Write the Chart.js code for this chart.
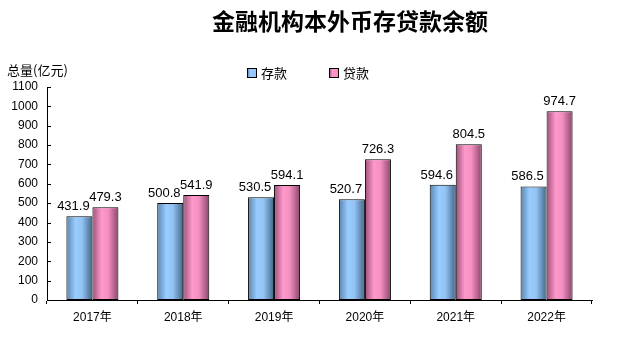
<!DOCTYPE html>
<html>
<head>
<meta charset="utf-8">
<script src="https://cdn.jsdelivr.net/npm/chart.js@4.4.0/dist/chart.umd.min.js"></script>
<style>
  html, body { margin: 0; padding: 0; background: #fff; }
  #wrap { width: 628px; height: 342px; }
</style>
</head>
<body>
<div id="wrap"><canvas id="loanChart"></canvas></div>
<script>
// 数据
const years = ["2017年", "2018年", "2019年", "2020年", "2021年", "2022年"];
const deposits = [431.9, 500.8, 530.5, 520.7, 594.6, 586.5];
const loans = [479.3, 541.9, 594.1, 726.3, 804.5, 974.7];
const seriesNames = ["存款", "贷款"];
const yTicks = [0, 100, 200, 300, 400, 500, 600, 700, 800, 900, 1000, 1100];

const CAT_PCT = 0.573;
const FONT = "'Liberation Sans', Arial, 'Noto Sans CJK SC', sans-serif";

const palettes = [
  ["#5a84ad", "#99ccff", "#92c3f3", "#42668a"],
  ["#9c5079", "#ff99cc", "#f48fc2", "#8a4669"]
];

function barGradient(ctx) {
  const chart = ctx.chart;
  const xs = chart.scales.x;
  if (!xs || !chart.chartArea || ctx.dataIndex === undefined) return palettes[ctx.datasetIndex][1];
  const center = xs.getPixelForValue(ctx.dataIndex);
  const catW = xs.width / years.length;
  const groupW = catW * CAT_PCT;
  const barW = groupW / 2;
  const left = center - groupW / 2 + ctx.datasetIndex * barW;
  const p = palettes[ctx.datasetIndex];
  const g = chart.ctx.createLinearGradient(left, 0, left + barW, 0);
  g.addColorStop(0, p[0]);
  g.addColorStop(0.35, p[1]);
  g.addColorStop(0.6, p[2]);
  g.addColorStop(1, p[3]);
  return g;
}

const extras = {
  id: "extras",
  afterDraw(chart) {
    const ctx = chart.ctx;
    const ys = chart.scales.y;
    const area = chart.chartArea;
    ctx.save();
    // 标题
    ctx.fillStyle = "#000";
    ctx.font = "bold 23px 'Noto Sans CJK SC', serif";
    ctx.textAlign = "center";
    ctx.textBaseline = "middle";
    ctx.fillText("金融机构本外币存贷款余额", 350, 21);
    // 单位
    ctx.font = "13px 'Noto Sans CJK SC', sans-serif";
    ctx.textAlign = "left";
    ctx.fillText("总量(亿元)", 7, 70);
    // 图例
    const legendX = [247, 329];
    seriesNames.forEach((name, i) => {
      const g = ctx.createLinearGradient(legendX[i], 0, legendX[i] + 9, 0);
      g.addColorStop(0, palettes[i][0]);
      g.addColorStop(0.4, palettes[i][1]);
      g.addColorStop(1, palettes[i][2]);
      ctx.fillStyle = g;
      ctx.fillRect(legendX[i], 68, 9, 9);
      ctx.strokeStyle = "#000";
      ctx.lineWidth = 1;
      ctx.strokeRect(legendX[i] + 0.5, 68.5, 9, 9);
      ctx.fillStyle = "#000";
      ctx.fillText(name, legendX[i] + 14, 73);
    });
    // y 轴刻度线（朝内）
    ctx.strokeStyle = "#000";
    ctx.beginPath();
    yTicks.forEach(v => {
      const y = Math.round(ys.getPixelForValue(v)) + 0.5;
      ctx.moveTo(area.left, y);
      ctx.lineTo(area.left + 4, y);
    });
    ctx.stroke();
    // 数据标签
    ctx.font = "13px " + FONT;
    ctx.textAlign = "center";
    ctx.textBaseline = "alphabetic";
    ctx.fillStyle = "#000";
    chart.data.datasets.forEach((ds, di) => {
      const meta = chart.getDatasetMeta(di);
      meta.data.forEach((bar, i) => {
        const dx = di === 0 ? -6 : 0;
        ctx.fillText(ds.data[i].toFixed(1), bar.x + dx, bar.y - 6);
      });
    });
    ctx.restore();
  }
};

Chart.defaults.font.family = FONT;
Chart.defaults.color = "#000";

new Chart(document.getElementById("loanChart"), {
  type: "bar",
  data: {
    labels: years,
    datasets: [
      { label: seriesNames[0], data: deposits, backgroundColor: barGradient, borderColor: "#000", borderWidth: 1, borderSkipped: false },
      { label: seriesNames[1], data: loans, backgroundColor: barGradient, borderColor: "#000", borderWidth: 1, borderSkipped: false }
    ]
  },
  options: {
    responsive: true,
    maintainAspectRatio: false,
    animation: false,
    datasets: { bar: { categoryPercentage: CAT_PCT, barPercentage: 1 } },
    layout: { padding: { top: 87, right: 36, bottom: 0, left: 0 } },
    plugins: {
      legend: { display: false },
      title: { display: false },
      tooltip: { enabled: false }
    },
    scales: {
      x: {
        grid: { offset: true, drawOnChartArea: false, drawTicks: true, tickLength: 4, color: "#000" },
        border: { display: true, color: "#000", width: 1 },
        ticks: { font: { size: 12 }, padding: 6, color: "#000" },
        afterFit(scale) { scale.height = 42; }
      },
      y: {
        min: 0,
        max: 1100,
        afterBuildTicks(scale) { scale.ticks = yTicks.map(v => ({ value: v })); },
        grid: { display: false, drawTicks: false },
        border: { display: true, color: "#000", width: 1 },
        ticks: { font: { size: 12 }, padding: 9, color: "#000", callback: v => String(v) },
        afterFit(scale) { scale.width = 47; }
      }
    }
  },
  plugins: [extras]
});
</script>
</body>
</html>
